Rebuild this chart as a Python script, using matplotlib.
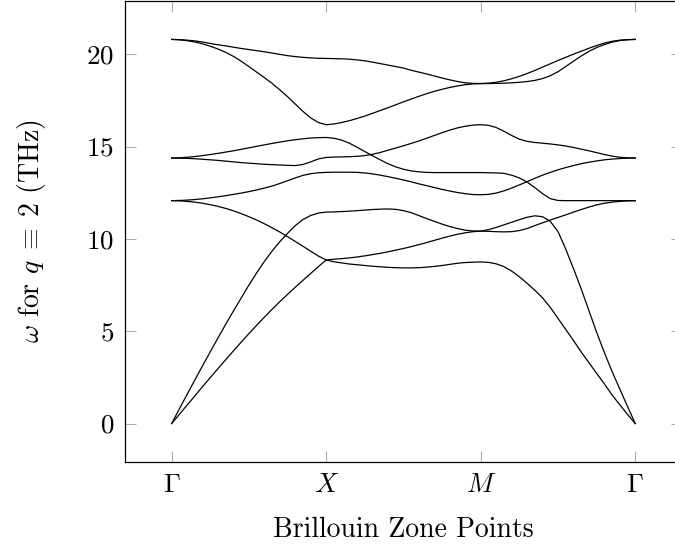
import matplotlib
matplotlib.use("Agg")
import matplotlib.pyplot as plt

plt.rcParams["font.family"] = "serif"
plt.rcParams["font.serif"] = ["cmr10"]
plt.rcParams["mathtext.fontset"] = "cm"
plt.rcParams["axes.unicode_minus"] = False
plt.rcParams["axes.formatter.use_mathtext"] = True

# path coordinate along Gamma -> X -> M -> Gamma
k = [0.00, 0.05, 0.10, 0.15, 0.20, 0.25, 0.30, 0.35, 0.40, 0.45,
     0.50, 0.55, 0.60, 0.65, 0.70, 0.75, 0.80, 0.85, 0.90, 0.95,
     1.00, 1.05, 1.10, 1.15, 1.20, 1.25, 1.30, 1.35, 1.40, 1.45,
     1.50, 1.55, 1.60, 1.65, 1.70, 1.75, 1.80, 1.85, 1.90, 1.95,
     2.00, 2.05, 2.10, 2.15, 2.20, 2.25, 2.30, 2.35, 2.40, 2.45,
     2.50, 2.55, 2.60, 2.65, 2.70, 2.75, 2.80, 2.85, 2.90, 2.95,
     3.00]

# phonon branches, omega in THz
band_a = [20.80, 20.79, 20.76, 20.72, 20.66, 20.58, 20.51, 20.45, 20.38, 20.31,
          20.25, 20.19, 20.13, 20.06, 19.99, 19.92, 19.87, 19.83, 19.80, 19.78,
          19.77, 19.76, 19.75, 19.73, 19.69, 19.64, 19.57, 19.49, 19.41, 19.33,
          19.25, 19.13, 19.03, 18.93, 18.82, 18.71, 18.61, 18.52, 18.45, 18.42,
          18.41, 18.43, 18.48, 18.56, 18.67, 18.80, 18.95, 19.12, 19.30, 19.48,
          19.66, 19.83, 20.00, 20.16, 20.32, 20.47, 20.60, 20.70, 20.76, 20.79,
          20.80]
band_b = [20.80, 20.78, 20.73, 20.66, 20.56, 20.43, 20.28, 20.10, 19.88, 19.62,
          19.33, 19.03, 18.73, 18.42, 18.07, 17.70, 17.30, 16.90, 16.55, 16.30,
          16.18, 16.22, 16.30, 16.40, 16.52, 16.65, 16.80, 16.95, 17.10, 17.26,
          17.42, 17.57, 17.72, 17.86, 17.99, 18.10, 18.20, 18.28, 18.35, 18.39,
          18.41, 18.41, 18.42, 18.43, 18.45, 18.48, 18.52, 18.58, 18.68, 18.83,
          19.05, 19.33, 19.62, 19.90, 20.15, 20.36, 20.52, 20.65, 20.74, 20.78,
          20.80]
band_c = [14.38, 14.39, 14.42, 14.46, 14.51, 14.57, 14.63, 14.70, 14.77, 14.85,
          14.93, 15.01, 15.09, 15.17, 15.24, 15.31, 15.37, 15.42, 15.46, 15.48,
          15.49, 15.45, 15.35, 15.18, 14.96, 14.73, 14.50, 14.28, 14.07, 13.90,
          13.77, 13.68, 13.63, 13.60, 13.59, 13.59, 13.59, 13.59, 13.59, 13.59,
          13.59, 13.58, 13.57, 13.55, 13.45, 13.30, 13.08, 12.78, 12.45, 12.18,
          12.08, 12.07, 12.07, 12.07, 12.07, 12.07, 12.07, 12.07, 12.07, 12.07,
          12.07]
band_d = [14.38, 14.37, 14.36, 14.34, 14.31, 14.28, 14.25, 14.21, 14.17, 14.13,
          14.10, 14.07, 14.04, 14.02, 14.00, 13.98, 13.97, 14.03, 14.17, 14.33,
          14.41, 14.43, 14.44, 14.45, 14.47, 14.51, 14.58, 14.68, 14.80, 14.92,
          15.04, 15.17, 15.30, 15.45, 15.60, 15.75, 15.89, 16.01, 16.10, 16.16,
          16.18, 16.15, 16.03, 15.83, 15.60, 15.40, 15.28, 15.22, 15.18, 15.14,
          15.09, 15.03, 14.95, 14.86, 14.77, 14.67, 14.57, 14.48, 14.42, 14.39,
          14.38]
band_e = [12.07, 12.08, 12.10, 12.13, 12.17, 12.22, 12.28, 12.34, 12.41, 12.48,
          12.56, 12.65, 12.75, 12.86, 13.00, 13.15, 13.30, 13.44, 13.53, 13.58,
          13.60, 13.61, 13.61, 13.61, 13.60, 13.57, 13.52, 13.45, 13.37, 13.28,
          13.19, 13.09, 12.98, 12.88, 12.78, 12.68, 12.59, 12.51, 12.45, 12.40,
          12.39, 12.41, 12.48, 12.60, 12.75, 12.92, 13.10, 13.28, 13.45, 13.60,
          13.74, 13.86, 13.97, 14.07, 14.15, 14.22, 14.28, 14.32, 14.35, 14.37,
          14.38]
band_f = [12.07, 12.06, 12.03, 11.99, 11.93, 11.85, 11.76, 11.65, 11.52, 11.37,
          11.20, 11.02, 10.82, 10.60, 10.37, 10.12, 9.86, 9.60, 9.33, 9.07,
          8.86, 8.76, 8.70, 8.64, 8.60, 8.56, 8.52, 8.49, 8.46, 8.44,
          8.43, 8.43, 8.44, 8.47, 8.51, 8.56, 8.62, 8.68, 8.72, 8.74,
          8.75, 8.73, 8.65, 8.50, 8.26, 7.95, 7.60, 7.22, 6.81, 6.29,
          5.70, 5.10, 4.50, 3.88, 3.30, 2.72, 2.15, 1.55, 1.02, 0.50,
          0.00]
band_g = [0.00, 0.80, 1.58, 2.36, 3.13, 3.89, 4.64, 5.38, 6.10, 6.80,
          7.50, 8.16, 8.78, 9.34, 9.85, 10.30, 10.72, 11.05, 11.27, 11.40,
          11.45, 11.46, 11.48, 11.50, 11.53, 11.56, 11.59, 11.61, 11.62, 11.60,
          11.53, 11.42, 11.26, 11.10, 10.95, 10.80, 10.67, 10.56, 10.47, 10.43,
          10.42, 10.41, 10.39, 10.38, 10.39, 10.45, 10.56, 10.72, 10.87, 11.02,
          11.16, 11.30, 11.45, 11.59, 11.72, 11.84, 11.93, 11.99, 12.03, 12.06,
          12.07]
band_h = [0.00, 0.50, 1.00, 1.50, 2.00, 2.49, 2.98, 3.46, 3.94, 4.41,
          4.87, 5.32, 5.76, 6.19, 6.60, 7.00, 7.38, 7.76, 8.13, 8.50,
          8.86, 8.90, 8.93, 8.97, 9.02, 9.08, 9.15, 9.22, 9.30, 9.39,
          9.48, 9.58, 9.69, 9.80, 9.92, 10.04, 10.15, 10.25, 10.33, 10.39,
          10.42, 10.50, 10.62, 10.76, 10.90, 11.04, 11.17, 11.25, 11.20, 10.95,
          10.40, 9.45, 8.40, 7.30, 6.12, 4.95, 3.85, 2.82, 1.87, 0.93,
          0.00]

point_pos = [0, 1, 2, 3]
point_names = [r"$\Gamma$", r"$X$", r"$M$", r"$\Gamma$"]
omega_ticks = [0, 5, 10, 15, 20]


def main():
    fig = plt.figure(figsize=(6.75, 5.46), dpi=100)
    # the right edge of the frame runs past the canvas
    ax = fig.add_axes([125.3 / 675, 84 / 546, 556.3 / 675, 461 / 546])

    for band in [band_a, band_b, band_c, band_d, band_e, band_f, band_g, band_h]:
        ax.plot(k, band, color="black", linewidth=0.9)

    ax.set_xlim(-0.3, 3.3)
    ax.set_ylim(-2.08, 22.88)
    ax.set_xticks(point_pos, point_names)
    ax.set_yticks(omega_ticks)
    ax.tick_params(direction="in", length=8, width=0.6, color="0.6",
                   top=True, right=True, labelsize=19.5, pad=8)
    for spine in ax.spines.values():
        spine.set_linewidth(0.9)
    ax.spines["right"].set_visible(False)

    ax.set_xlabel("Brillouin Zone Points", fontsize=20, va="baseline")
    ax.xaxis.set_label_coords(0.5, -0.1625)
    ax.set_ylabel(r"$\omega$ for $q\;\equiv\;2$ (THz)", fontsize=20)
    ax.yaxis.set_label_coords(-0.1695, 0.5)
    ax.yaxis.label.set_va("center")

    fig.savefig("out.png", dpi=100)


if __name__ == "__main__":
    main()
